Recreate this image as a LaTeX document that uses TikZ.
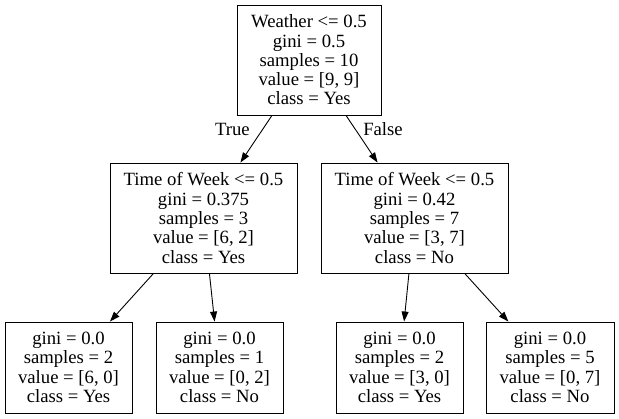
\documentclass[tikz,border=0pt]{standalone}
\usepackage{fontspec}
\setmainfont{Liberation Serif}
\usetikzlibrary{arrows.meta}

\begin{document}
\begin{tikzpicture}[
  x=1pt, y=-1pt, >={Triangle[length=10pt,width=7pt]},
  split/.style={draw, line width=0.9pt, align=center, inner sep=0pt, minimum height=110pt,
    font=\fontsize{18.7}{19.3}\selectfont},
  leaf/.style={split, minimum width=127pt, minimum height=91pt},
  edge/.style={->, line width=0.9pt},
  elabel/.style={font=\fontsize{18.7}{20}\selectfont},
]
\useasboundingbox (0,0) rectangle (619,419);
% root split
\node[split, minimum width=144pt] (root) at (309,60)
  {Weather <= 0.5\\gini = 0.5\\samples = 10\\value = [9, 9]\\class = Yes};
% second level
\node[split, minimum width=187pt] (tw1) at (203.5,218)
  {Time of Week <= 0.5\\gini = 0.375\\samples = 3\\value = [6, 2]\\class = Yes};
\node[split, minimum width=187pt] (tw2) at (414.5,218)
  {Time of Week <= 0.5\\gini = 0.42\\samples = 7\\value = [3, 7]\\class = No};
% leaves
\node[leaf] (leafa) at (68.5,367.5) {gini = 0.0\\samples = 2\\value = [6, 0]\\class = Yes};
\node[leaf] (leafb) at (219.5,367.5) {gini = 0.0\\samples = 1\\value = [0, 2]\\class = No};
\node[leaf] (leafc) at (399.5,367.5) {gini = 0.0\\samples = 2\\value = [3, 0]\\class = Yes};
\node[leaf, minimum width=128pt] (leafd) at (550,367.5) {gini = 0.0\\samples = 5\\value = [0, 7]\\class = No};

\draw[edge] (root) -- node[elabel, pos=0.3, left=9pt] {True} (tw1);
\draw[edge] (root) -- node[elabel, pos=0.3, right=4pt] {False} (tw2);
\draw[edge] (tw1) -- (leafa);
\draw[edge] (tw1) -- (leafb);
\draw[edge] (tw2) -- (leafc);
\draw[edge] (tw2) -- (leafd);
\end{tikzpicture}
\end{document}
